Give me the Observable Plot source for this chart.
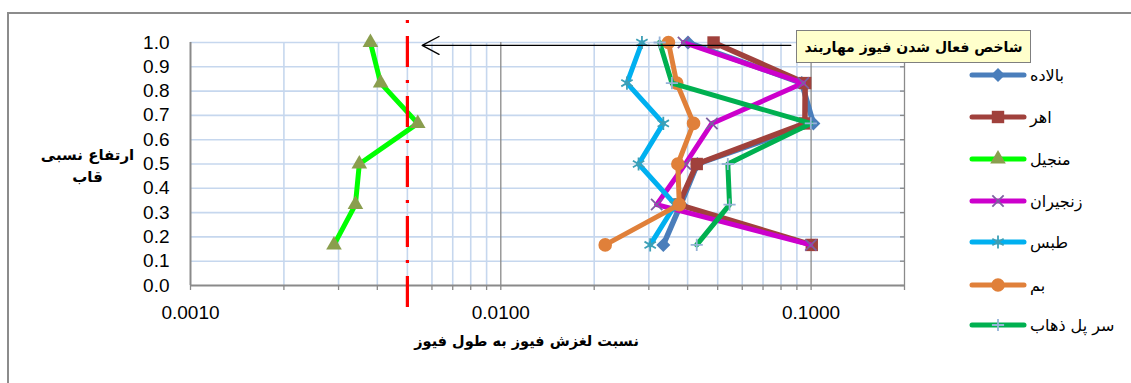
<!DOCTYPE html>
<html>
<head>
<meta charset="utf-8">
<script src="https://cdn.jsdelivr.net/npm/d3@7"></script>
<script src="https://cdn.jsdelivr.net/npm/@observablehq/plot@0.6"></script>
<style>
  html, body { margin: 0; padding: 0; background: #ffffff; }
  #wrap { position: relative; width: 1131px; height: 383px; overflow: hidden;
          font-family: "Liberation Sans", "DejaVu Sans", sans-serif; }
  #wrap svg.plot { position: absolute; left: 0; top: 0; }
  #frame { position: absolute; left: 7px; top: 12px; width: 1300px; height: 500px;
           border-left: 2px solid #8c8c8c; border-top: 2px solid #8c8c8c; }
  #callout { position: absolute; left: 796px; top: 30px; width: 233px; height: 31px;
             background: #FFFFCC; border: 1.5px solid #7f7f7f; box-sizing: content-box;
             display: flex; align-items: center; justify-content: center;
             font-family: "DejaVu Sans", sans-serif; font-weight: bold; font-size: 14px;
             white-space: nowrap; direction: rtl; color: #000; }
  .leg { position: absolute; left: 968px; height: 20px; display: flex; align-items: center; }
  .leg span { font-family: "DejaVu Sans", sans-serif; font-size: 16px; direction: rtl;
              color: #000; margin-left: 2px; white-space: nowrap; }
</style>
</head>
<body>
<div id="wrap"><div id="frame"></div></div>
<script>
// ---------- data ----------
const heights   = [1.0, 0.833, 0.667, 0.5, 0.333, 0.167];
const balade    = [0.0401, 0.0933, 0.1017, 0.0430, 0.0380, 0.0334];
const ahar      = [0.0485, 0.0957, 0.0955, 0.0428, 0.0374, 0.1005];
const manjil    = [0.0038, 0.0041, 0.0054, 0.0035, 0.0034, 0.0029];
const zanjiran  = [0.0388, 0.0944, 0.0479, 0.0393, 0.0318, 0.0998];
const tabas     = [0.0285, 0.0255, 0.0334, 0.0278, 0.0365, 0.0303];
const bam       = [0.0347, 0.0369, 0.0418, 0.0372, 0.0376, 0.0217];
const sarpol    = [0.0325, 0.0356, 0.0998, 0.0539, 0.0546, 0.0428];

const seriesNames = ["بالاده", "اهر", "منجیل", "زنجیران", "طبس", "بم", "سر پل ذهاب"];

const xDomain   = [0.001, 0.2];
const xMajor    = [0.001, 0.01, 0.1];
const xMinor    = [0.002, 0.003, 0.004, 0.005, 0.006, 0.007, 0.008, 0.009,
                   0.02, 0.03, 0.04, 0.05, 0.06, 0.07, 0.08, 0.09];
const yTicks    = [0, 0.1, 0.2, 0.3, 0.4, 0.5, 0.6, 0.7, 0.8, 0.9, 1.0];

const fuseIndex = [0.005];                       // red dash-dot reference line
const arrowFrom = [0.086];                        // arrow tail (x)
const arrowTo   = [0.00558];                      // arrow head (x)
const arrowAt   = [0.988];                        // arrow height (y)

const xLabel = "نسبت لغزش فیوز به طول فیوز";
const yLabel = "ارتفاع نسبی\nقاب";
const calloutText = "شاخص فعال شدن فیوز مهاربند";

// ---------- styles ----------
const styles = [
  {line: "#4A7EBB", mark: "#4A7EBB", symbol: "diamond2", r: 6.3, filled: true,  sw: 5.5},
  {line: "#A0413C", mark: "#A0413C", symbol: "square",   r: 7.0, filled: true,  sw: 5.5},
  {line: "#00FF00", mark: "#8A9E4E", symbol: "triangle", r: 5.8, filled: true,  sw: 5},
  {line: "#CC00CC", mark: "#7D5FA0", symbol: "times",    r: 5.2, filled: false, sw: 5},
  {line: "#00B0F0", mark: "#3E9FB5", symbol: "asterisk", r: 6.2, filled: false, sw: 5},
  {line: "#E0803A", mark: "#E0803A", symbol: "circle",   r: 6.8, filled: true,  sw: 5},
  {line: "#00B050", mark: "#95B3D7", symbol: "plus",     r: 4.0, filled: false, sw: 5}
];
const allSeries = [balade, ahar, manjil, zanjiran, tabas, bam, sarpol];

const seriesMarks = allSeries.flatMap((vals, i) => {
  const rows = vals.map((v, j) => ({x: v, y: heights[j]}));
  const s = styles[i];
  return [
    Plot.line(rows, {x: "x", y: "y", stroke: s.line, strokeWidth: s.sw,
                     strokeLinejoin: "round", strokeLinecap: "round"}),
    Plot.dot(rows, {x: "x", y: "y", symbol: () => s.symbol, r: s.r,
                    fill: s.filled ? s.mark : "none",
                    stroke: s.mark, strokeWidth: s.filled ? 0 : 1.8})
  ];
});

const grid = "#C6D7EE";
const axisGray = "#8a8a8a";

const chart = Plot.plot({
  width: 1131,
  height: 383,
  marginLeft: 190,
  marginRight: 227,
  marginTop: 42,
  marginBottom: 98,
  style: {background: "transparent", fontFamily: "'Liberation Sans', 'DejaVu Sans', sans-serif",
          fontSize: "19px", color: "#000", overflow: "visible"},
  x: {type: "log", domain: xDomain},
  y: {domain: [0, 1]},
  marks: [
    // gridlines
    Plot.ruleX(xMinor, {stroke: grid, strokeWidth: 1.6}),
    Plot.ruleY(yTicks.filter(d => d > 0), {stroke: grid, strokeWidth: 1.6}),
    Plot.ruleX(xMajor.slice(1), {stroke: axisGray, strokeWidth: 1.3}),
    Plot.ruleX([xDomain[1]], {stroke: axisGray, strokeWidth: 1.3}),
    Plot.ruleX([xDomain[0]], {stroke: axisGray, strokeWidth: 2}),
    Plot.ruleY([0], {stroke: axisGray, strokeWidth: 2}),
    // axes
    Plot.axisX({ticks: xMajor.concat(xMinor, [xDomain[1]]), tickSize: 5, tickFormat: () => "",
                stroke: axisGray, strokeWidth: 1.3, label: null}),
    Plot.axisX({ticks: xMajor, tickSize: 0, tickPadding: 20, tickFormat: d3.format(".4f"),
                label: null}),
    Plot.axisY({ticks: yTicks, tickSize: 0, tickPadding: 21, tickFormat: d3.format(".1f"),
                label: null}),
    Plot.axisY({anchor: "right", ticks: yTicks, tickSize: 5, dx: -5, tickFormat: () => "",
                stroke: axisGray, strokeWidth: 1.3, label: null}),
    // series
    ...seriesMarks,
    // fuse activation index
    Plot.ruleX(fuseIndex, {stroke: "#FF0000", strokeWidth: 3.2, strokeDasharray: "3,13,31,13",
                           insetTop: -22, insetBottom: -22}),
    Plot.arrow(arrowFrom.map((d, i) => ({x1: d, x2: arrowTo[i], y: arrowAt[i]})),
               {x1: "x1", x2: "x2", y1: "y", y2: "y", stroke: "#000", strokeWidth: 1.3,
                headLength: 22, headAngle: 56}),
    // titles
    Plot.text([xLabel], {frameAnchor: "bottom", dx: -21, dy: 60, fontWeight: "bold",
                         fontSize: 14.5, fontFamily: "'DejaVu Sans', sans-serif"}),
    Plot.text([yLabel], {frameAnchor: "left", textAnchor: "middle", dx: -103, dy: 0,
                         fontWeight: "bold", fontSize: 15,
                         fontFamily: "'DejaVu Sans', sans-serif", lineHeight: 1.5})
  ]
});
chart.classList.add("plot");
const wrap = document.getElementById("wrap");
wrap.appendChild(chart);

// callout box
const callout = document.createElement("div");
callout.id = "callout";
callout.textContent = calloutText;
wrap.appendChild(callout);

// legend
const legendY = [75, 117, 159, 201, 242, 285, 325];
seriesNames.forEach((name, i) => {
  const s = styles[i];
  const item = document.createElement("div");
  item.className = "leg";
  item.style.top = (legendY[i] - 10) + "px";
  const svg = d3.create("svg").attr("width", 60).attr("height", 20);
  svg.append("line").attr("x1", 4).attr("x2", 56).attr("y1", 10).attr("y2", 10)
     .attr("stroke", s.line).attr("stroke-width", 5).attr("stroke-linecap", "round");
  const symMap = {diamond2: d3.symbolDiamond2, square: d3.symbolSquare, triangle: d3.symbolTriangle,
                  times: d3.symbolTimes, asterisk: d3.symbolAsterisk, circle: d3.symbolCircle,
                  plus: d3.symbolPlus};
  svg.append("path").attr("transform", "translate(30,10)")
     .attr("d", d3.symbol(symMap[s.symbol], Math.PI * s.r * s.r)())
     .attr("fill", s.filled ? s.mark : "none")
     .attr("stroke", s.mark).attr("stroke-width", s.filled ? 0 : 1.8);
  item.appendChild(svg.node());
  const label = document.createElement("span");
  label.textContent = name;
  item.appendChild(label);
  wrap.appendChild(item);
});
</script>
</body>
</html>
